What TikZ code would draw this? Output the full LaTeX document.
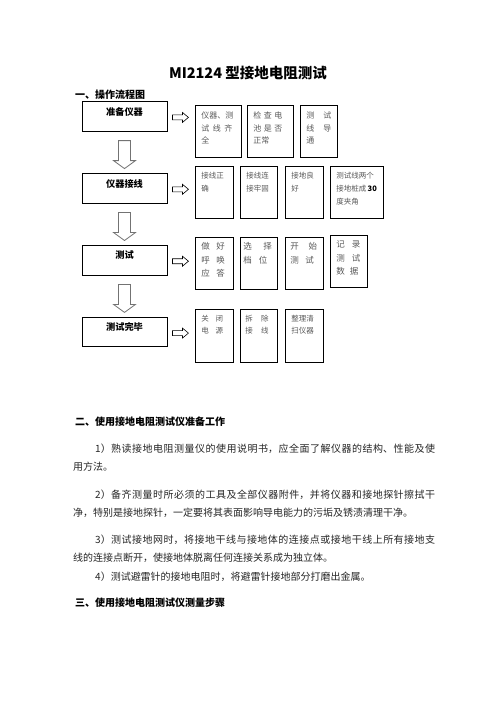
\documentclass[tikz,border=0pt]{standalone}
\usepackage{fontspec}
\setmainfont{Noto Sans CJK SC}
\usetikzlibrary{
  positioning,
  calc
}
\XeTeXlinebreaklocale "zh"
\XeTeXlinebreakskip=0pt plus 1.5pt
\newcommand{\spreadto}[2]{\makebox[#1][s]{#2}}

\tikzset{
  mainbox/.style={draw, line width=0.9pt, minimum width=85pt, inner sep=0pt,
    text height=13.5pt, text depth=16pt, font=\bfseries\fontsize{9.2}{11}\selectfont},
  itembox/.style={draw, line width=0.9pt, anchor=north west, align=left,
    inner xsep=6pt, inner ysep=0pt, text=black!65},
  rowa/.style={font=\fontsize{8}{12.5}\selectfont, text height=13.2pt, text depth=38.8pt},
  rowb/.style={font=\fontsize{7.5}{13}\selectfont, text height=11.9pt, text depth=40.1pt},
  rowc/.style={font=\fontsize{8.5}{13.5}\selectfont, text height=12.4pt, text depth=39.6pt},
  rowd/.style={font=\fontsize{7.5}{12}\selectfont, text height=12.2pt, text depth=40.5pt},
  downarrow/.style={draw=black!55, line width=0.8pt},
  rightarrow/.style={draw, line width=0.6pt},
  heading/.style={anchor=base west, inner sep=0pt, font=\bfseries\fontsize{10}{12}\selectfont},
  para/.style={anchor=base west, inner sep=0pt, text width=362pt, align=justify,
    text=black!85, font=\fontsize{10}{18}\selectfont}
}

\begin{document}
\begin{tikzpicture}[x=1pt, y=-1pt]
  \path[fill=white] (0,0) rectangle (496,702);
  \useasboundingbox (0,0) rectangle (496,702);

  % headings
  \node[anchor=base, inner sep=0pt, font=\bfseries\fontsize{14.5}{16}\selectfont] (title) at (248,78.5) {MI2124 型接地电阻测试};
  \node[heading] (head1) at (75,98.8) {一、操作流程图};

  % flow, left column
  \node[mainbox] (prep) at (124.5,116.4) {准备仪器};
  \node[mainbox, below=41.5pt of prep] (wiring) {仪器接线};
  \node[mainbox, below=41.5pt of wiring] (test) {测试};
  \node[mainbox, below=41.5pt of test] (finish) {测试完毕};

  \draw[downarrow] ($(prep.south)+(-6,9)$) -- ++(12,0) -- ++(0,20) -- ++(5,0) -- ++(-11,8) -- ++(-11,-8) -- ++(5,0) -- cycle;
  \draw[downarrow] ($(wiring.south)+(-6,9)$) -- ++(12,0) -- ++(0,20) -- ++(5,0) -- ++(-11,8) -- ++(-11,-8) -- ++(5,0) -- cycle;
  \draw[downarrow] ($(test.south)+(-6,9)$) -- ++(12,0) -- ++(0,20) -- ++(5,0) -- ++(-11,8) -- ++(-11,-8) -- ++(5,0) -- cycle;

  \draw[rightarrow] ($(prep.east)+(5,-1.5)$) -- ++(10,0) -- ++(0,-2.5) -- ++(6,5) -- ++(-6,5) -- ++(0,-2.5) -- ++(-10,0) -- cycle;
  \draw[rightarrow] ($(wiring.east)+(5,-1.5)$) -- ++(10,0) -- ++(0,-2.5) -- ++(6,5) -- ++(-6,5) -- ++(0,-2.5) -- ++(-10,0) -- cycle;
  \draw[rightarrow] ($(test.east)+(5,-1.5)$) -- ++(10,0) -- ++(0,-2.5) -- ++(6,5) -- ++(-6,5) -- ++(0,-2.5) -- ++(-10,0) -- cycle;
  \draw[rightarrow] ($(finish.east)+(5,-1.5)$) -- ++(10,0) -- ++(0,-2.5) -- ++(6,5) -- ++(-6,5) -- ++(0,-2.5) -- ++(-10,0) -- cycle;

  % row 1
  \node[itembox, rowa, text width=33.7pt] (prep1) at (195,105)
    {仪器、测\\\spreadto{31pt}{试\hfill 线\hfill 齐}\\全};
  \node[itembox, rowa, text width=33.7pt] (prep2) at (247,105)
    {\spreadto{29pt}{检\hfill 查\hfill 电}\\\spreadto{29pt}{池\hfill 是\hfill 否}\\正常};
  \node[itembox, rowa, text width=25pt] (prep3) at (300,105)
    {\spreadto{25pt}{测\hfill 试}\\\spreadto{25pt}{线\hfill 导}\\通};

  % row 2
  \node[itembox, rowb, text width=25.7pt] (wire1) at (195,166) {接线正\\确};
  \node[itembox, rowb, text width=25pt] (wire2) at (240,166) {接线连\\接牢固};
  \node[itembox, rowb, text width=25.7pt] (wire3) at (285,166) {接地良\\好};
  \node[itembox, rowb, text width=40.7pt] (wire4) at (330,166)
    {测试线两个\\\mbox{接地桩成\,\textbf{\color{black}30}}\\度夹角};

  % row 3
  \node[itembox, rowc, text width=25.7pt] (test1) at (195,237)
    {\spreadto{23.5pt}{做\hfill 好}\\\spreadto{23.5pt}{呼\hfill 唤}\\\spreadto{23.5pt}{应\hfill 答}};
  \node[itembox, rowc, inner xsep=3pt, text width=31pt] (test2) at (240,237)
    {\spreadto{28.4pt}{选\hfill 择}\\\spreadto{24pt}{档\hfill 位}};
  \node[itembox, rowc, inner xsep=5pt, text width=27.7pt] (test3) at (285,237)
    {\spreadto{26.7pt}{开\hfill 始}\\\spreadto{23.3pt}{测\hfill 试}};
  \node[itembox, rowc, text width=25pt] (test4) at (330,235)
    {\spreadto{24pt}{记\hfill 录}\\\spreadto{24pt}{测\hfill 试}\\\spreadto{22pt}{数\hfill 据}};

  % row 4
  \node[itembox, rowd, text width=25.7pt] (fin1) at (195,309)
    {\spreadto{21.6pt}{关\hfill 闭}\\\spreadto{21.6pt}{电\hfill 源}};
  \node[itembox, rowd, inner xsep=5pt, text width=27pt] (fin2) at (240,309)
    {\spreadto{23.3pt}{拆\hfill 除}\\\spreadto{23.3pt}{接\hfill 线}};
  \node[itembox, rowd, text width=25.7pt] (fin3) at (285,309) {整理清\\扫仪器};

  % text below
  \node[heading] (head2) at (75,425.8) {二、使用接地电阻测试仪准备工作};
  \node[para] (para1) at (73,452.8)
    {\hspace*{22pt}1）熟读接地电阻测量仪的使用说明书，应全面了解仪器的结构、性能及使\linebreak 用方法。};
  \node[para] (para2) at (73,498.8)
    {\hspace*{22pt}2）备齐测量时所必须的工具及全部仪器附件，并将仪器和接地探针擦拭干\linebreak 净，特别是接地探针，一定要将其表面影响导电能力的污垢及锈渍清理干净。};
  \node[para] (para3) at (73,543.8)
    {\hspace*{22pt}3）测试接地网时，将接地干线与接地体的连接点或接地干线上所有接地支\linebreak 线的连接点断开，使接地体脱离任何连接关系成为独立体。};
  \node[para] (para4) at (73,580.8)
    {\hspace*{22pt}4）测试避雷针的接地电阻时，将避雷针接地部分打磨出金属。};
  \node[heading] (head3) at (75,606.8) {三、使用接地电阻测试仪测量步骤};
\end{tikzpicture}
\end{document}
